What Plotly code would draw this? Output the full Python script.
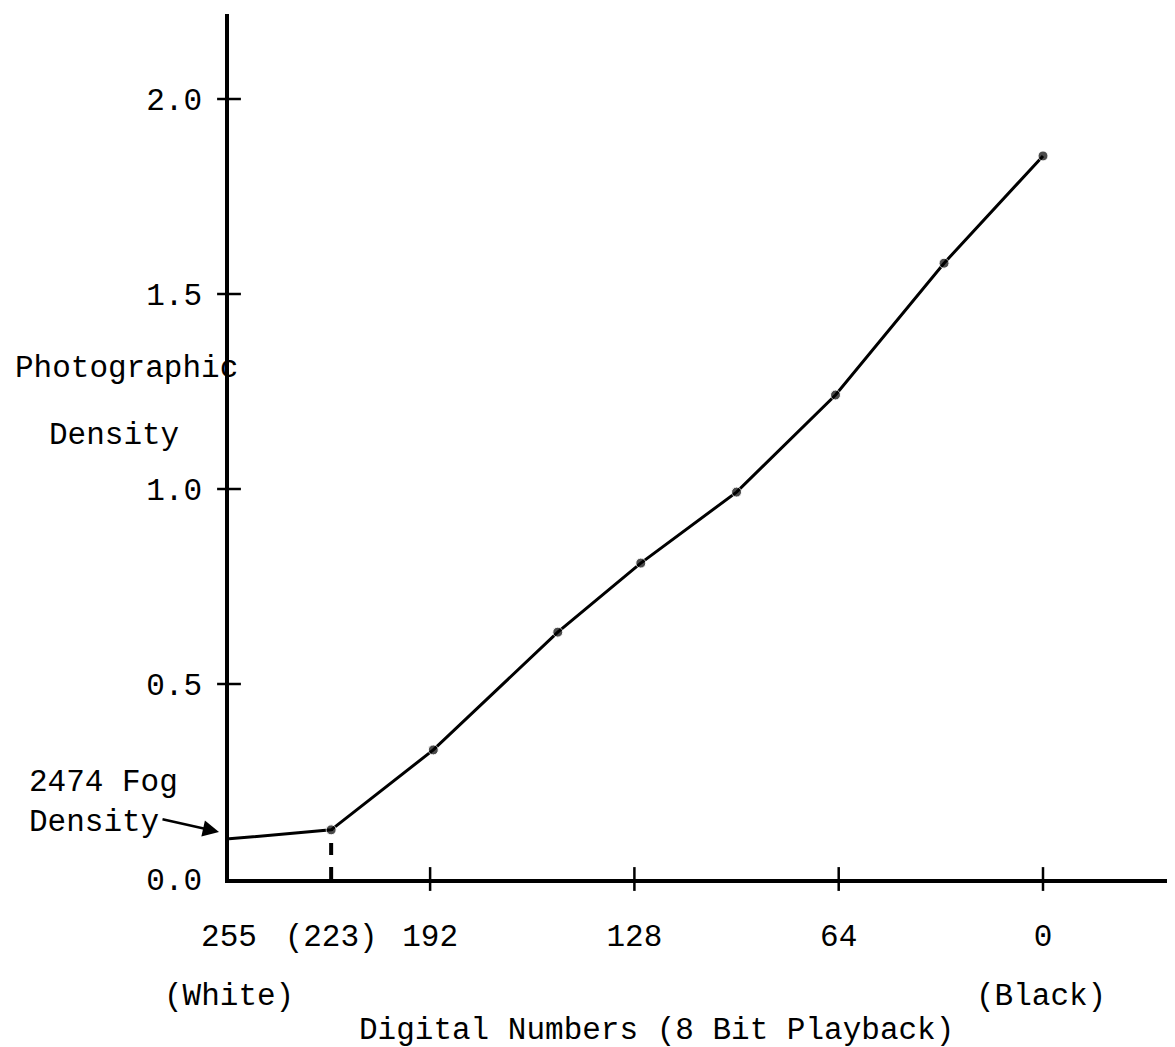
import plotly.graph_objects as go

# ---- data ----
dn_values = [255, 223, 191, 152, 126, 96, 65, 31, 0]
density_values = [0.103, 0.126, 0.331, 0.633, 0.810, 0.992, 1.241, 1.579, 1.854]

fog_dn = 223
fog_density = 0.126

x_tick_vals = [255, 223, 192, 128, 64, 0]
x_tick_text = ["255", "(223)", "192", "128", "64", "0"]
x_tick_marks = [192, 128, 64, 0]

y_tick_vals = [0.0, 0.5, 1.0, 1.5, 2.0]
y_tick_text = ["0.0", "0.5", "1.0", "1.5", "2.0"]
y_tick_marks = [0.5, 1.0, 1.5, 2.0]

FONT = "Liberation Mono, Courier New, monospace"
FS = 31
INK = "#000000"

OFF = 7  # page offset of the figure inside the browser window
W, H = 1175 - OFF, 1047 - OFF
# target plot area in the window: left 228, right 1175, top 13, bottom 878
L = 228 - OFF
T = 13 - OFF
R = 0
B = H - (878 - OFF)
plot_w = W - R - L
plot_h = 878 - 13
px_per_dn = (1042 - 228) / 255.0
x_min = 255 - plot_w / px_per_dn
y_top = 2.0 * plot_h / 780.0  # 390 px per density unit


def pxx(p):
    return (p - 228) / plot_w


def pxy(p):
    return (878 - p) / plot_h


fig = go.Figure()

# main curve
fig.add_trace(go.Scatter(
    x=dn_values, y=density_values, mode="lines+markers",
    line=dict(color=INK, width=3.0),
    marker=dict(color=INK, size=[0] + [10] * (len(dn_values) - 1)),
    cliponaxis=False, showlegend=False, hoverinfo="skip"))

# dashed drop line at (223)
fig.add_trace(go.Scatter(
    x=[fog_dn, fog_dn], y=[0, fog_density], mode="lines",
    line=dict(color=INK, width=4, dash="dash"),
    showlegend=False, hoverinfo="skip"))

# crossing tick marks
fig.add_trace(go.Scatter(
    x=x_tick_marks, y=[0] * len(x_tick_marks), mode="markers",
    marker=dict(symbol="line-ns", size=17, line=dict(color=INK, width=2.5)),
    cliponaxis=False, showlegend=False, hoverinfo="skip"))
fig.add_trace(go.Scatter(
    x=[255] * len(y_tick_marks), y=y_tick_marks, mode="markers",
    marker=dict(symbol="line-ew", size=17, line=dict(color=INK, width=2.5)),
    cliponaxis=False, showlegend=False, hoverinfo="skip"))


def txt(s, px, py, **kw):
    base = dict(text=s, showarrow=False, xref="paper", yref="paper",
                x=pxx(px), y=pxy(py), xanchor="center", yanchor="middle",
                font=dict(family=FONT, size=FS, color=INK))
    base.update(kw)
    fig.add_annotation(**base)


# y-axis title
txt("Photographic", 125, 368)
txt("Density", 113, 434)

# White / Black
txt("(White)", 228, 995)
txt("(Black)", 1040, 995)

# x-axis title
txt("Digital Numbers (8 Bit Playback)", 655, 1030)

# fog density label + arrow
txt("2474 Fog<br>Density", 26, 801, xanchor="left", align="left")
fig.add_annotation(xref="paper", yref="paper", x=pxx(218), y=pxy(831),
                   ax=-58, ay=-13, text="", showarrow=True, arrowhead=2, arrowsize=1.3,
                   arrowwidth=2.5, arrowcolor=INK)

fig.update_layout(
    width=W, height=H, margin=dict(l=L, r=R, t=T, b=B),
    paper_bgcolor="white", plot_bgcolor="white",
    font=dict(family=FONT, size=FS, color=INK),
    xaxis=dict(range=[255, x_min], showgrid=False, zeroline=False,
               showline=True, linecolor=INK, linewidth=3.5,
               tickmode="array", tickvals=x_tick_vals, ticktext=x_tick_text,
               ticks="", ticklabelstandoff=26,
               tickfont=dict(family=FONT, size=FS, color=INK)),
    yaxis=dict(range=[0, y_top], showgrid=False, zeroline=False,
               showline=True, linecolor=INK, linewidth=3.5,
               tickmode="array", tickvals=y_tick_vals, ticktext=y_tick_text,
               ticks="", ticklabelstandoff=17,
               tickfont=dict(family=FONT, size=FS, color=INK)),
)

fig.write_html("out.html")
